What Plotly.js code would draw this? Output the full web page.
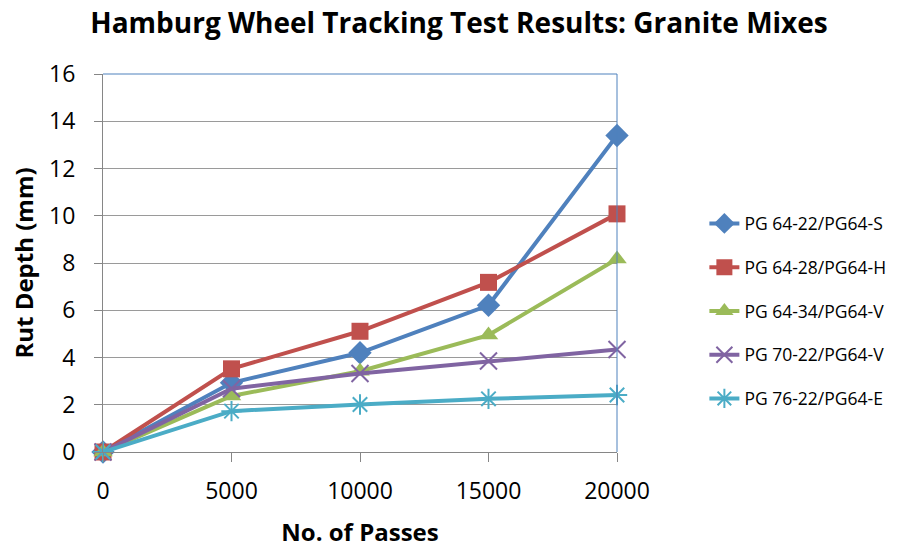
<!DOCTYPE html>
<html>
<head>
<meta charset="utf-8">
<script src="https://cdn.plot.ly/plotly-3.0.1.min.js"></script>
<style>html,body{margin:0;padding:0;background:#fff;}#chart{width:918px;height:548px;}</style>
</head>
<body>
<div id="chart"></div>
<script>
const passes = [0, 5000, 10000, 15000, 20000];
const seriesNames = ["PG 64-22/PG64-S", "PG 64-28/PG64-H", "PG 64-34/PG64-V", "PG 70-22/PG64-V", "PG 76-22/PG64-E"];
const pg6422 = [0, 2.93, 4.2, 6.21, 13.4];
const pg6428 = [0, 3.52, 5.11, 7.18, 10.08];
const pg6434 = [0, 2.37, 3.42, 4.95, 8.17];
const pg7022 = [0, 2.68, 3.32, 3.85, 4.34];
const pg7622 = [0, 1.73, 2.01, 2.25, 2.41];
const xTicks = [0, 5000, 10000, 15000, 20000];
const yTicks = [0, 2, 4, 6, 8, 10, 12, 14, 16];

const colors = ["#4F81BD", "#C0504D", "#9BBB59", "#8064A2", "#4BACC6"];
const symbols = ["diamond", "square", "triangle-up", "x-thin-open", "asterisk-open"];
const sizes = [18, 17, 17, 17, 17];
const allData = [pg6422, pg6428, pg6434, pg7022, pg7622];

const traces = allData.map((ys, i) => {
  const open = symbols[i].endsWith("open");
  return {
    x: passes, y: ys, name: seriesNames[i], type: "scatter", mode: "lines+markers",
    legendgroup: "g" + i,
    cliponaxis: false,
    line: {color: colors[i], width: 4},
    marker: {symbol: symbols[i], size: sizes[i], color: colors[i],
      line: open ? {color: colors[i], width: 2} : {width: 0}}
  };
});

const F = "Open Sans, Liberation Sans, sans-serif";
const layout = {
  width: 918, height: 548,
  margin: {l: 103, r: 301, t: 74, b: 96},
  paper_bgcolor: "#fff", plot_bgcolor: "#fff",
  font: {family: F, color: "#000"},
  title: {text: "<b>Hamburg Wheel Tracking Test Results: Granite Mixes</b>",
    font: {size: 28, family: F, color: "#000"}, x: 0.5, xanchor: "center", xref: "container",
    y: 0.958, yanchor: "middle", yref: "container"},
  xaxis: {
    range: [0, 20000], tickvals: xTicks, ticktext: xTicks.map(String),
    showgrid: false, zeroline: false, showline: true, linecolor: "#868686", linewidth: 1,
    ticks: "outside", ticklen: 9, tickcolor: "#868686", ticklabelstandoff: 9,
    tickfont: {size: 23, family: F},
    title: {text: "<b>No. of Passes</b>", font: {size: 24, family: F}, standoff: 20}
  },
  yaxis: {
    range: [0, 16], tickvals: yTicks, ticktext: yTicks.map(String),
    showgrid: true, gridcolor: "#9a9a9a", gridwidth: 1, zeroline: false,
    showline: true, linecolor: "#868686", linewidth: 1,
    ticks: "outside", ticklen: 8, tickcolor: "#868686", ticklabelstandoff: 14,
    tickfont: {size: 23, family: F},
    title: {text: "<b>Rut Depth (mm)</b>", font: {size: 24, family: F}, standoff: 8}
  },
  legend: {x: 1.17, xanchor: "left", y: 0.652, yanchor: "top",
    font: {size: 17.5, family: F}, tracegroupgap: 18, bgcolor: "rgba(0,0,0,0)"},
  shapes: [
    {type: "line", xref: "paper", yref: "paper", x0: 0, x1: 1, y0: 1, y1: 1, line: {color: "#4F81BD", width: 1}},
    {type: "line", xref: "paper", yref: "paper", x0: 1, x1: 1, y0: 0, y1: 1, line: {color: "#4F81BD", width: 1}}
  ]
};

Plotly.newPlot("chart", traces, layout, {displayModeBar: false, staticPlot: true});
</script>
</body>
</html>
